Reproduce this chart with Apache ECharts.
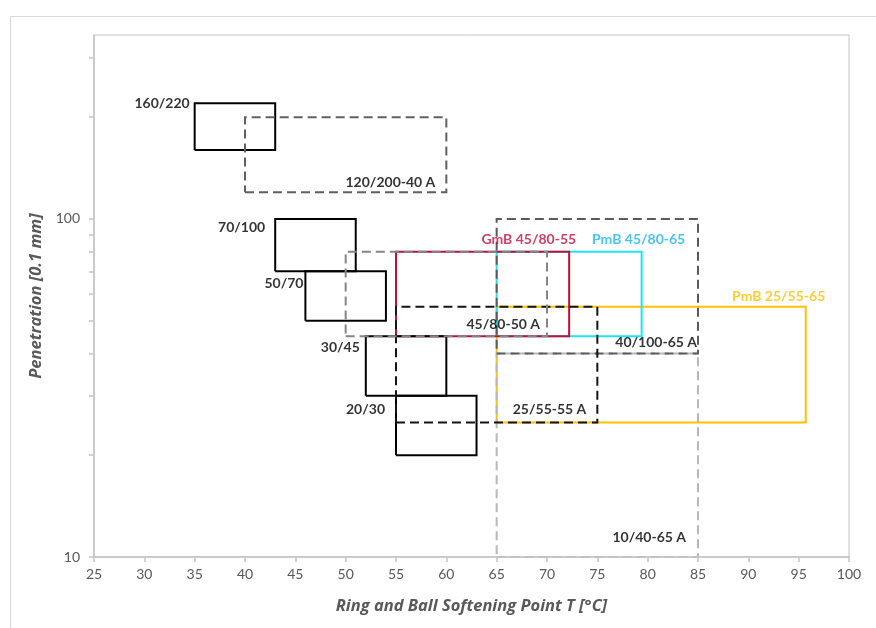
<!DOCTYPE html>
<html>
<head>
<meta charset="utf-8">
<script src="https://cdn.jsdelivr.net/npm/echarts@6/dist/echarts.min.js"></script>
<style>
  html, body { margin: 0; padding: 0; background: #fff; }
  #chart { width: 876px; height: 628px; }
</style>
</head>
<body>
<div id="chart"></div>
<script>
// ---- data ----
const xTicks = [25, 30, 35, 40, 45, 50, 55, 60, 65, 70, 75, 80, 85, 90, 95, 100];
const yLabelValues = [10, 100];
const yTickValues = [10, 20, 30, 40, 50, 60, 70, 80, 90, 100, 200, 300];

// paving grades (solid black)
const gradeNames = ['160/220', '70/100', '50/70', '30/45', '20/30'];
const gradeSoft = [[35, 43], [43, 51], [46, 54], [52, 60], [55, 63]];
const gradePen = [[160, 220], [70, 100], [50, 70], [30, 45], [20, 30]];

// coloured binders (solid)
const coloredNames = ['PmB 25/55-65', 'PmB 45/80-65', 'GmB 45/80-55'];
const coloredSoft = [[65, 95.7], [65, 79.4], [55, 72.2]];
const coloredPen = [[25, 55], [45, 80], [45, 80]];

// specification classes (dashed)
const dashedNames = ['10/40-65 A', '40/100-65 A', '25/55-55 A', '45/80-50 A', '120/200-40 A'];
const dashedSoft = [[65, 85], [65, 85], [55, 75], [50, 70], [40, 60]];
const dashedPen = [[10, 40], [40, 100], [25, 55], [45, 80], [120, 200]];

// ---- styles (not data) ----
const coloredColors = ['#FFC000', '#1EE4F2', '#C0103A'];
const coloredTextColors = ['#FFC000', '#18B6F0', '#C0103A'];
const dashedColors = ['#b8b8b8', '#5a5a5a', '#141414', '#858585', '#606060'];
// label anchor: corner ('tl','tr','br') + pixel offset + alignment
const gradeLabel = [
  { corner: 'tl', dx: -5, dy: 0, align: 'right' },
  { corner: 'tl', dx: -10, dy: 9, align: 'right' },
  { corner: 'tl', dx: -2, dy: 12, align: 'right' },
  { corner: 'tl', dx: -6, dy: 11, align: 'right' },
  { corner: 'tl', dx: -11, dy: 14, align: 'right' }
];
const coloredLabel = [
  { corner: 'tr', dx: -27, dy: -10, align: 'center' },
  { corner: 'tr', dx: -3, dy: -12, align: 'center' },
  { corner: 'tr', dx: 7, dy: -12, align: 'right' }
];
const dashedLabel = [
  { corner: 'br', dx: -12, dy: -20, align: 'right' },
  { corner: 'br', dx: -1, dy: -11, align: 'right' },
  { corner: 'br', dx: -11, dy: -13, align: 'right' },
  { corner: 'br', dx: -7, dy: -12, align: 'right' },
  { corner: 'br', dx: -11, dy: -10, align: 'right' }
];

const FONT = 'Lato, "Open Sans", sans-serif';
const TITLE_FONT = '"Open Sans", Lato, sans-serif';

function rectPath(sx, py) {
  return [[sx[0], py[0]], [sx[1], py[0]], [sx[1], py[1]], [sx[0], py[1]], [sx[0], py[0]]];
}
function corner(sx, py, c) {
  if (c === 'tl') return [sx[0], py[1]];
  if (c === 'tr') return [sx[1], py[1]];
  return [sx[1], py[0]];
}

const series = [];
const labelItems = [];

function addGroup(names, soft, pen, colors, textColors, labels, dashed) {
  names.forEach((n, i) => {
    series.push({
      type: 'line',
      name: n,
      data: rectPath(soft[i], pen[i]),
      showSymbol: false,
      symbol: 'none',
      silent: true,
      lineStyle: {
        color: colors[i],
        width: 2,
        type: dashed ? [9, 5] : 'solid',
        cap: 'butt',
        join: 'miter'
      },
      z: dashed ? 3 : 2
    });
    const L = labels[i];
    labelItems.push({
      value: corner(soft[i], pen[i], L.corner),
      label: {
        show: true,
        formatter: n,
        position: 'inside',
        offset: [L.dx, L.dy],
        align: L.align,
        verticalAlign: 'middle',
        color: textColors[i],
        fontFamily: FONT,
        fontWeight: 'bold',
        fontSize: 14
      }
    });
  });
}

addGroup(coloredNames, coloredSoft, coloredPen, coloredColors, coloredTextColors, coloredLabel, false);
addGroup(gradeNames, gradeSoft, gradePen, gradeNames.map(() => '#000'), gradeNames.map(() => '#000'), gradeLabel, false);
addGroup(dashedNames, dashedSoft, dashedPen, dashedColors, dashedNames.map(() => '#000'), dashedLabel, true);

series.push({
  type: 'scatter',
  symbolSize: 0,
  silent: true,
  data: labelItems,
  z: 5
});

const chart = echarts.init(document.getElementById('chart'), null, { renderer: 'canvas' });
chart.setOption({
  animation: false,
  backgroundColor: '#fff',
  graphic: [{
    type: 'rect',
    shape: { x: 10.5, y: 16.5, width: 900, height: 700 },
    style: { fill: 'none', stroke: '#d9d9d9', lineWidth: 1 },
    silent: true,
    z: -10
  }],
  grid: {
    left: 94, right: 27, top: 35, bottom: 71,
    show: true, borderColor: '#c4c4c4', borderWidth: 1, backgroundColor: 'transparent'
  },
  xAxis: {
    type: 'value',
    z: 4,
    min: xTicks[0], max: xTicks[xTicks.length - 1], interval: 5,
    name: 'Ring and Ball Softening Point T [°C]',
    nameLocation: 'middle',
    nameGap: 41,
    nameTextStyle: { color: '#595959', fontFamily: TITLE_FONT, fontSize: 16.5, fontStyle: 'italic', fontWeight: 'bold' },
    axisLine: { lineStyle: { color: '#c4c4c4', width: 1.5 } },
    axisTick: { show: true, length: 5, lineStyle: { color: '#c4c4c4', width: 1.5 } },
    axisLabel: { color: '#595959', fontFamily: FONT, fontSize: 14, margin: 10 },
    splitLine: { show: false }
  },
  yAxis: {
    type: 'log', logBase: 10,
    min: 10, max: 350,
    name: 'Penetration [0.1 mm]',
    nameLocation: 'middle',
    nameGap: 48,
    nameTextStyle: { color: '#595959', fontFamily: TITLE_FONT, fontSize: 16.5, fontStyle: 'italic', fontWeight: 'bold' },
    axisLine: { show: true, lineStyle: { color: '#c4c4c4', width: 1.5 } },
    axisTick: { show: true, length: 5, customValues: yTickValues, lineStyle: { color: '#c4c4c4', width: 1.5 } },
    axisLabel: { color: '#595959', fontFamily: FONT, fontSize: 14, margin: 14, customValues: yLabelValues },
    splitLine: { show: false },
    minorTick: { show: false }
  },
  series: series
});
</script>
</body>
</html>
